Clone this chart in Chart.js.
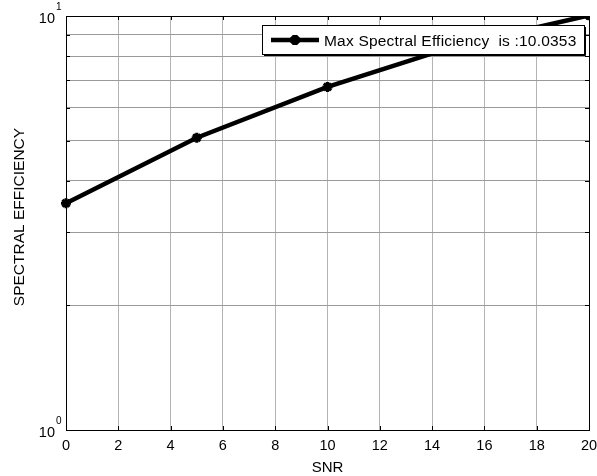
<!DOCTYPE html>
<html>
<head>
<meta charset="utf-8">
<script src="https://cdn.jsdelivr.net/npm/chart.js@4.4.0/dist/chart.umd.min.js"></script>
<style>
  html, body { margin: 0; padding: 0; background: #fff; }
  #wrap { position: relative; width: 597px; height: 476px; }
</style>
</head>
<body>
<div id="wrap"><canvas id="chartSpectral" width="597" height="476"></canvas></div>
<script>
// Datos del gráfico
const SNR = [0, 5, 10, 15, 20];
const EFFICIENCY = [3.53, 5.08, 6.74, 8.5, 10.0353];
const X_TICKS = [0, 2, 4, 6, 8, 10, 12, 14, 16, 18, 20];
const Y_GRID = [1, 2, 3, 4, 5, 6, 7, 8, 9, 10];
const Y_DECADES = [1, 10];
const Y_EXPONENTS = ['0', '1'];
const SERIES_LABEL = 'Max Spectral Efficiency  is :10.0353';
const X_TITLE = 'SNR';
const Y_TITLE = 'SPECTRAL EFFICIENCY';

(function() {
  'use strict';

  const FONT = "'Liberation Sans', Arial, sans-serif";
  const TICK_LEN = 4;

  // marco negro, marcas hacia dentro, etiquetas del eje y con exponente
  const matlabAxes = {
    id: 'matlabAxes',
    afterDatasetsDraw(chart) {
      const { ctx, chartArea: a, scales } = chart;
      const x = scales.x, y = scales.y;
      ctx.save();
      ctx.strokeStyle = '#000';
      ctx.lineWidth = 1;
      ctx.beginPath();
      X_TICKS.forEach(v => {
        const px = Math.round(x.getPixelForValue(v)) + 0.5;
        ctx.moveTo(px, a.bottom); ctx.lineTo(px, a.bottom - TICK_LEN);
        ctx.moveTo(px, a.top); ctx.lineTo(px, a.top + TICK_LEN);
      });
      Y_GRID.forEach(v => {
        const py = Math.round(y.getPixelForValue(v)) + 0.5;
        ctx.moveTo(a.left, py); ctx.lineTo(a.left + TICK_LEN, py);
        ctx.moveTo(a.right, py); ctx.lineTo(a.right - TICK_LEN, py);
      });
      ctx.stroke();
      ctx.strokeRect(Math.round(a.left) + 0.5, Math.round(a.top) + 0.5,
        Math.round(a.right - a.left), Math.round(a.bottom - a.top));

      // etiquetas 10^n
      ctx.fillStyle = '#000';
      ctx.textBaseline = 'alphabetic';
      Y_DECADES.forEach((v, i) => {
        const py = y.getPixelForValue(v);
        ctx.font = '14.5px ' + FONT;
        ctx.textAlign = 'right';
        ctx.fillText('10', a.left - 11, py + 7);
        ctx.font = '10px ' + FONT;
        ctx.textAlign = 'left';
        ctx.fillText(Y_EXPONENTS[i], a.left - 10, py - 6);
      });

      // título del eje y
      ctx.font = '15.5px ' + FONT;
      ctx.textAlign = 'center';
      ctx.textBaseline = 'middle';
      ctx.translate(20, (a.top + a.bottom) / 2 - 6);
      ctx.rotate(-Math.PI / 2);
      ctx.fillText(Y_TITLE, 0, 0);
      ctx.restore();
    }
  };

  // leyenda con recuadro dentro del área del gráfico
  const boxedLegend = {
    id: 'boxedLegend',
    afterDraw(chart) {
      const { ctx } = chart;
      const ds = chart.data.datasets[0];
      const bx = 262, by = 25, bw = 322, bh = 29;
      ctx.save();
      ctx.fillStyle = '#fff';
      ctx.fillRect(bx, by, bw, bh);
      ctx.strokeStyle = '#000';
      ctx.lineWidth = 1;
      ctx.strokeRect(bx + 0.5, by + 0.5, bw, bh);
      ctx.beginPath();
      ctx.moveTo(bx + bw + 1.5, by + 2); ctx.lineTo(bx + bw + 1.5, by + bh + 1.5);
      ctx.lineTo(bx + 2, by + bh + 1.5);
      ctx.stroke();
      const ly = by + bh / 2 + 0.5;
      ctx.strokeStyle = ds.borderColor;
      ctx.lineWidth = ds.borderWidth;
      ctx.beginPath();
      ctx.moveTo(bx + 9, ly); ctx.lineTo(bx + 57, ly);
      ctx.stroke();
      Chart.helpers.drawPoint(ctx, {
        pointStyle: ds.pointStyle, radius: ds.pointRadius,
        borderWidth: ds.pointBorderWidth, rotation: 0
      }, bx + 33, ly);
      ctx.fillStyle = '#000';
      ctx.font = '15.5px ' + FONT;
      ctx.letterSpacing = '0.2px';
      ctx.textAlign = 'left';
      ctx.textBaseline = 'alphabetic';
      ctx.fillText(ds.label, bx + 62, by + 21);
      ctx.restore();
    }
  };

  const canvas = document.getElementById('chartSpectral');
  new Chart(canvas.getContext('2d'), {
    type: 'line',
    data: {
      datasets: [{
        label: SERIES_LABEL,
        data: SNR.map((s, i) => ({ x: s, y: EFFICIENCY[i] })),
        borderColor: '#000',
        backgroundColor: '#000',
        borderWidth: 4.5,
        pointStyle: 'star',
        pointRadius: 5,
        pointBorderWidth: 3,
        pointBorderColor: '#000',
        tension: 0,
        clip: { left: 8, top: 0, right: 0, bottom: 0 }
      }]
    },
    options: {
      responsive: false,
      animation: false,
      layout: { padding: { left: 66, top: 16, right: 8, bottom: 0 } },
      plugins: { legend: { display: false }, tooltip: { enabled: false } },
      scales: {
        x: {
          type: 'linear',
          min: 0, max: 20,
          afterBuildTicks: s => { s.ticks = X_TICKS.map(v => ({ value: v })); },
          afterFit: s => { s.height = 46; s.paddingLeft = 0; s.paddingRight = 0; },
          ticks: { color: '#000', font: { family: FONT, size: 14.5, lineHeight: 1.1 }, padding: 8, maxRotation: 0 },
          grid: { color: '#b4b4b4', drawTicks: false },
          border: { color: '#000', width: 1 },
          title: { display: true, text: X_TITLE, color: '#000', font: { family: FONT, size: 15, lineHeight: 1 }, padding: { top: 0, bottom: 1 } }
        },
        y: {
          type: 'logarithmic',
          min: 1, max: 10,
          afterBuildTicks: s => { s.ticks = Y_GRID.map(v => ({ value: v })); },
          afterFit: s => { s.width = 0; s.paddingTop = 0; s.paddingBottom = 0; },
          ticks: { display: false },
          grid: { color: '#9a9a9a', drawTicks: false },
          border: { color: '#000', width: 1 }
        }
      }
    },
    plugins: [matlabAxes, boxedLegend]
  });
})();
</script>
</body>
</html>
